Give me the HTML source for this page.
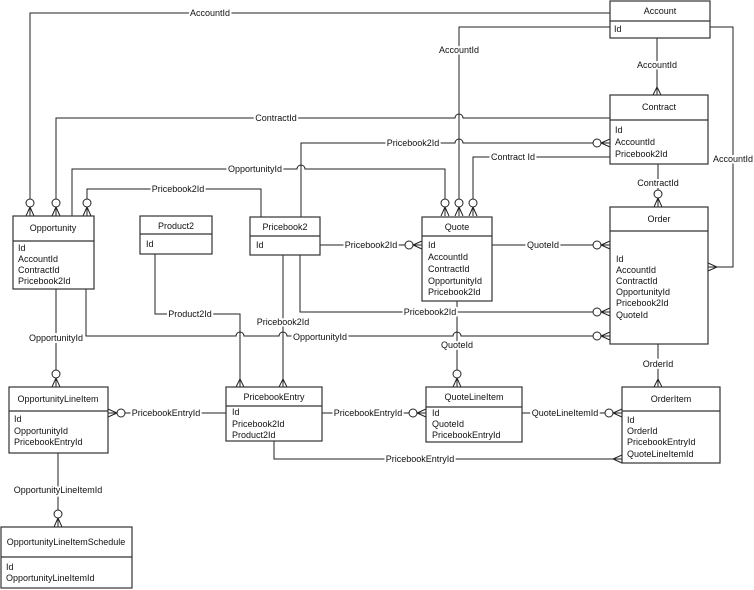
<!DOCTYPE html>
<html><head><meta charset="utf-8"><style>
html,body{margin:0;padding:0;background:#fff}
svg{display:block}
text{font-family:"Liberation Sans",Arial,sans-serif;font-size:9px;fill:#111}
.l{stroke:#222;stroke-width:1;fill:none}
.b{stroke:#333;stroke-width:1.2;fill:#fff}
.c{stroke:#222;stroke-width:1;fill:#fff}
.lab{paint-order:stroke;stroke:#fff;stroke-width:4px;stroke-linejoin:round}
</style></head><body>
<svg width="754" height="590" viewBox="0 0 754 590" xmlns="http://www.w3.org/2000/svg">
<!-- connectors -->
<g class="l">
<path d="M610 13 H30 V216"/>
<path d="M610 27 H459 V216"/>
<path d="M657 38 V95"/>
<path d="M710 27 H733 V267 H708"/>
<path d="M610 118 H463 A4 4 0 0 0 455 118 H56 V216"/>
<path d="M301 217 V143 H455 A4 4 0 0 1 463 143 H610"/>
<path d="M610 157 H473 V216"/>
<path d="M72 216 V169 H297 A4 4 0 0 1 305 169 H445 V216"/>
<path d="M87 216 V189 H261 V217"/>
<path d="M658 164 V207"/>
<path d="M320 245 H422"/>
<path d="M492 245 H610"/>
<path d="M300 255 V312 H610"/>
<path d="M457 301 V387"/>
<path d="M86 289 V336 H236 A4 4 0 0 1 244 336 H279 A4 4 0 0 1 287 336 H453 A4 4 0 0 1 461 336 H610"/>
<path d="M56 289 V387"/>
<path d="M155 254 V314 H240 V387"/>
<path d="M283 255 V387"/>
<path d="M226 413 H108"/>
<path d="M322 413 H426"/>
<path d="M522 413 H622"/>
<path d="M274 441 V459 H622"/>
<path d="M658 344 V387"/>
<path d="M58 453 V527"/>
</g>
<!-- crow's feet -->
<g class="l">
<!-- from top -->
<path d="M26 216 L30 207 L34 216 M30 207 V216"/>
<path d="M52 216 L56 207 L60 216"/>
<path d="M83 216 L87 207 L91 216"/>
<path d="M441 216 L445 207 L449 216"/>
<path d="M455 216 L459 207 L463 216"/>
<path d="M469 216 L473 207 L477 216"/>
<path d="M654 207 L658 198 L662 207"/>
<path d="M653 95 L657 87 L661 95"/>
<path d="M236 387 L240 379 L244 387"/>
<path d="M279 387 L283 379 L287 387"/>
<path d="M453 387 L457 378 L461 387"/>
<path d="M52 387 L56 378 L60 387"/>
<path d="M654 387 L658 379 L662 387"/>
<path d="M54 527 L58 518 L62 527"/>
<!-- from left into box -->
<path d="M610 139 L601 143 L610 147"/>
<path d="M610 241 L601 245 L610 249"/>
<path d="M610 308 L601 312 L610 316"/>
<path d="M610 332 L601 336 L610 340"/>
<path d="M422 241 L413 245 L422 249"/>
<path d="M426 409 L417 413 L426 417"/>
<path d="M622 409 L613 413 L622 417"/>
<path d="M622 455 L613 459 L622 463"/>
<!-- from right into box -->
<path d="M708 263 L717 267 L708 271"/>
<path d="M108 409 L117 413 L108 417"/>
</g>
<g class="c">
<circle cx="30" cy="203" r="4"/><circle cx="56" cy="203" r="4"/><circle cx="87" cy="203" r="4"/>
<circle cx="445" cy="203" r="4"/><circle cx="459" cy="203" r="4"/><circle cx="473" cy="203" r="4"/>
<circle cx="658" cy="194" r="4"/>
<circle cx="457" cy="374" r="4"/><circle cx="56" cy="374" r="4"/><circle cx="58" cy="514" r="4"/>
<circle cx="597" cy="143" r="4"/><circle cx="597" cy="245" r="4"/><circle cx="597" cy="312" r="4"/><circle cx="597" cy="336" r="4"/>
<circle cx="409" cy="245" r="4"/><circle cx="413" cy="413" r="4"/><circle cx="609" cy="413" r="4"/>
<circle cx="121" cy="413" r="4"/>
</g>
<!-- labels -->
<g class="lab" text-anchor="middle">
<text x="210" y="16">AccountId</text>
<text x="459" y="53">AccountId</text>
<text x="657" y="68">AccountId</text>
<text x="733" y="162">AccountId</text>
<text x="276" y="121">ContractId</text>
<text x="413" y="146">Pricebook2Id</text>
<text x="513" y="160">Contract Id</text>
<text x="255" y="172">OpportunityId</text>
<text x="178" y="192">Pricebook2Id</text>
<text x="658" y="186">ContractId</text>
<text x="371" y="248">Pricebook2Id</text>
<text x="543" y="248">QuoteId</text>
<text x="430" y="315">Pricebook2Id</text>
<text x="457" y="348">QuoteId</text>
<text x="320" y="340">OpportunityId</text>
<text x="56" y="341">OpportunityId</text>
<text x="190" y="317">Product2Id</text>
<text x="283" y="325">Pricebook2Id</text>
<text x="166" y="416">PricebookEntryId</text>
<text x="368" y="416">PricebookEntryId</text>
<text x="565" y="416">QuoteLineItemId</text>
<text x="420" y="462">PricebookEntryId</text>
<text x="658" y="367">OrderId</text>
<text x="58" y="493">OpportunityLineItemId</text>
</g>
<!-- boxes -->
<g>
<rect class="b" x="610" y="1" width="100" height="37"/><line class="b" x1="610" y1="21" x2="710" y2="21"/>
<text x="660" y="14" text-anchor="middle">Account</text><text x="614" y="32">Id</text>

<rect class="b" x="610" y="95" width="98" height="69"/><line class="b" x1="610" y1="120" x2="708" y2="120"/>
<text x="659" y="110" text-anchor="middle">Contract</text>
<text x="615" y="133">Id</text><text x="615" y="145">AccountId</text><text x="615" y="157">Pricebook2Id</text>

<rect class="b" x="610" y="207" width="98" height="137"/><line class="b" x1="610" y1="231" x2="708" y2="231"/>
<text x="659" y="222" text-anchor="middle">Order</text>
<text x="616" y="262">Id</text><text x="616" y="273">AccountId</text><text x="616" y="284">ContractId</text><text x="616" y="295">OpportunityId</text><text x="616" y="306">Pricebook2Id</text><text x="616" y="318">QuoteId</text>

<rect class="b" x="13" y="216" width="81" height="73"/><line class="b" x1="13" y1="241" x2="94" y2="241"/>
<text x="53" y="231" text-anchor="middle">Opportunity</text>
<text x="18" y="251">Id</text><text x="18" y="262">AccountId</text><text x="18" y="273">ContractId</text><text x="18" y="284">Pricebook2Id</text>

<rect class="b" x="140" y="216" width="72" height="38"/><line class="b" x1="140" y1="234" x2="212" y2="234"/>
<text x="176" y="229" text-anchor="middle">Product2</text><text x="146" y="247">Id</text>

<rect class="b" x="250" y="217" width="70" height="38"/><line class="b" x1="250" y1="236" x2="320" y2="236"/>
<text x="285" y="230" text-anchor="middle">Pricebook2</text><text x="256" y="248">Id</text>

<rect class="b" x="422" y="217" width="70" height="84"/><line class="b" x1="422" y1="236" x2="492" y2="236"/>
<text x="457" y="230" text-anchor="middle">Quote</text>
<text x="428" y="248">Id</text><text x="428" y="260">AccountId</text><text x="428" y="272">ContractId</text><text x="428" y="284">OpportunityId</text><text x="428" y="295">Pricebook2Id</text>

<rect class="b" x="9" y="387" width="99" height="66"/><line class="b" x1="9" y1="411" x2="108" y2="411"/>
<text x="58" y="402" text-anchor="middle">OpportunityLineItem</text>
<text x="14" y="422">Id</text><text x="14" y="434">OpportunityId</text><text x="14" y="445">PricebookEntryId</text>

<rect class="b" x="226" y="387" width="96" height="54"/><line class="b" x1="226" y1="406" x2="322" y2="406"/>
<text x="274" y="400" text-anchor="middle">PricebookEntry</text>
<text x="232" y="415">Id</text><text x="232" y="427">Pricebook2Id</text><text x="232" y="438">Product2Id</text>

<rect class="b" x="426" y="387" width="96" height="55"/><line class="b" x1="426" y1="407" x2="522" y2="407"/>
<text x="474" y="400" text-anchor="middle">QuoteLineItem</text>
<text x="432" y="416">Id</text><text x="432" y="427">QuoteId</text><text x="432" y="438">PricebookEntryId</text>

<rect class="b" x="622" y="387" width="98" height="76"/><line class="b" x1="622" y1="411" x2="720" y2="411"/>
<text x="671" y="402" text-anchor="middle">OrderItem</text>
<text x="627" y="423">Id</text><text x="627" y="434">OrderId</text><text x="627" y="445">PricebookEntryId</text><text x="627" y="457">QuoteLineItemId</text>

<rect class="b" x="1" y="527" width="131" height="61"/><line class="b" x1="1" y1="557" x2="132" y2="557"/>
<text x="66" y="545" text-anchor="middle">OpportunityLineItemSchedule</text>
<text x="6" y="570">Id</text><text x="6" y="581">OpportunityLineItemId</text>
</g>
</svg>
</body></html>
